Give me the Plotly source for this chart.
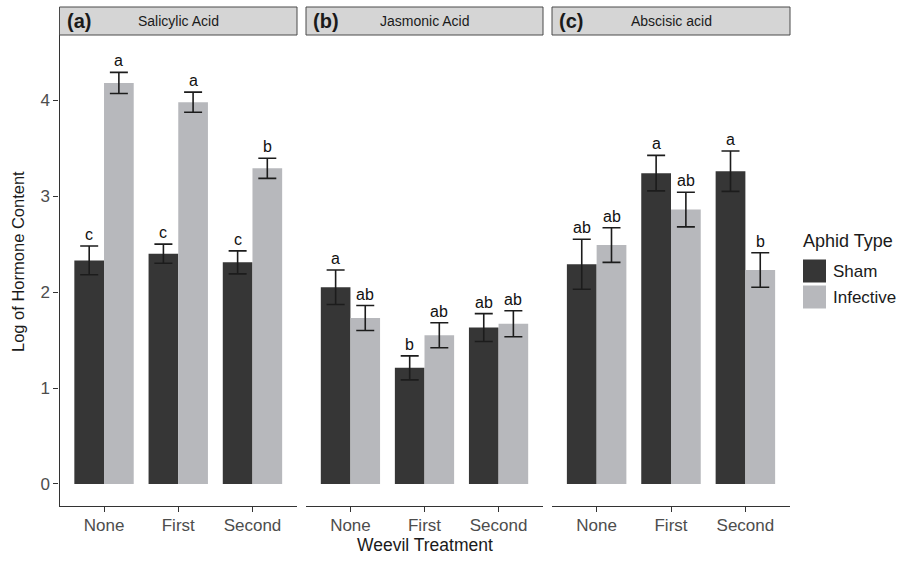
import plotly.graph_objects as go

W, H = 899, 564

categories = ["None", "First", "Second"]
cat_pos = [1, 2, 3]
hormones = ["Salicylic Acid", "Jasmonic Acid", "Abscisic acid"]
panel_tags = ["(a)", "(b)", "(c)"]
groups = ["Sham", "Infective"]

sa_sham = [2.33, 2.40, 2.31]
sa_sham_se = [0.15, 0.10, 0.12]
sa_inf = [4.18, 3.98, 3.29]
sa_inf_se = [0.11, 0.105, 0.105]

ja_sham = [2.05, 1.21, 1.63]
ja_sham_se = [0.18, 0.125, 0.145]
ja_inf = [1.73, 1.55, 1.67]
ja_inf_se = [0.13, 0.13, 0.135]

aba_sham = [2.29, 3.24, 3.26]
aba_sham_se = [0.26, 0.185, 0.21]
aba_inf = [2.49, 2.86, 2.23]
aba_inf_se = [0.18, 0.18, 0.18]

sa_sham_letters = ["c", "c", "c"]
sa_inf_letters = ["a", "a", "b"]
ja_sham_letters = ["a", "b", "ab"]
ja_inf_letters = ["ab", "ab", "ab"]
aba_sham_letters = ["ab", "a", "a"]
aba_inf_letters = ["ab", "ab", "b"]

y_ticks = [0, 1, 2, 3, 4]

panels = [
    (sa_sham, sa_sham_se, sa_inf, sa_inf_se, sa_sham_letters, sa_inf_letters),
    (ja_sham, ja_sham_se, ja_inf, ja_inf_se, ja_sham_letters, ja_inf_letters),
    (aba_sham, aba_sham_se, aba_inf, aba_inf_se, aba_sham_letters, aba_inf_letters),
]

colors = {"Sham": "#363636", "Infective": "#b7b8bc"}
FONT = "Liberation Sans, Arial, sans-serif"


def px_x(p):
    return p / W


def px_y(p):
    return 1 - p / H


panel_px = [(59.5, 297), (306, 543), (552, 790)]
top_px, bot_px = 35, 506
yrange = [-0.23, 4.68]
bar_w = 0.4
offsets = {"Sham": -0.4, "Infective": 0.0}

fig = go.Figure()
annotations = []
shapes = []


def paper_text(x, y, text, size, color="#1a1a1a", xanchor="center", angle=0):
    return dict(x=px_x(x), y=px_y(y), xref="paper", yref="paper", text=text,
                showarrow=False, xanchor=xanchor, yanchor="middle", textangle=angle,
                font=dict(family=FONT, size=size, color=color))


for i, (sham, sham_se, inf, inf_se, sl, il) in enumerate(panels):
    xa = "x" if i == 0 else f"x{i+1}"
    ya = "y" if i == 0 else f"y{i+1}"
    for g, vals, errs, letters in (("Sham", sham, sham_se, sl), ("Infective", inf, inf_se, il)):
        fig.add_trace(go.Bar(
            x=cat_pos, y=vals, width=bar_w, offset=offsets[g],
            marker=dict(color=colors[g], line=dict(width=0)),
            error_y=dict(type="data", array=errs, visible=True,
                         color="#1c1c1c", thickness=1.6, width=9),
            name=g, showlegend=False, xaxis=xa, yaxis=ya,
        ))
        for xp, v, e, t in zip(cat_pos, vals, errs, letters):
            annotations.append(dict(
                x=xp + offsets[g] + bar_w / 2, y=v + e, xref=xa, yref=ya,
                text=t, showarrow=False, xanchor="center", yanchor="bottom", yshift=1,
                font=dict(family=FONT, size=16, color="#111111")))
    x0, x1 = panel_px[i]
    # strip
    shapes.append(dict(type="rect", xref="paper", yref="paper",
                       x0=px_x(x0), x1=px_x(x1), y0=px_y(35), y1=px_y(7),
                       fillcolor="#d5d5d5", line=dict(color="#4a4a4a", width=1)))
    annotations.append(paper_text((x0 + x1) / 2, 21, hormones[i], 14))
    annotations.append(paper_text(x0 + 5, 21, "<b>" + panel_tags[i] + "</b>", 20,
                                  xanchor="left"))

    xaxis = dict(domain=[px_x(x0), px_x(x1)], range=[0.4, 3.6],
                 tickvals=cat_pos, ticktext=categories, showline=True,
                 linecolor="#333333", linewidth=1.3, ticks="outside", ticklen=5,
                 tickcolor="#333333", tickwidth=1.3, showgrid=False, zeroline=False,
                 tickfont=dict(family=FONT, size=17, color="#4d4d4d"),
                 ticklabelstandoff=-2,
                 anchor=ya, fixedrange=True)
    yaxis = dict(domain=[px_y(bot_px), px_y(top_px)], range=yrange,
                 showgrid=False, zeroline=False, anchor=xa, fixedrange=True)
    if i == 0:
        yaxis.update(tickvals=y_ticks, showline=True, linecolor="#333333", linewidth=1.3,
                     ticks="outside", ticklen=5, tickcolor="#333333", tickwidth=1.3,
                     tickfont=dict(family=FONT, size=17, color="#4d4d4d"))
    else:
        yaxis.update(matches="y", showticklabels=False, showline=False, ticks="")
    fig.layout["xaxis" if i == 0 else f"xaxis{i+1}"] = xaxis
    fig.layout["yaxis" if i == 0 else f"yaxis{i+1}"] = yaxis

# axis titles
annotations.append(paper_text(425, 545, "Weevil Treatment", 17.5))
annotations.append(paper_text(18, 262, "Log of Hormone Content", 16.5, angle=-90))

# legend (manual)
annotations.append(paper_text(801, 241, "Aphid Type", 18, xanchor="left"))
key_rows = [(259.5, 282.5), (285.5, 308.5)]
for g, (k0, k1) in zip(groups, key_rows):
    shapes.append(dict(type="rect", xref="paper", yref="paper",
                       x0=px_x(803), x1=px_x(826), y0=px_y(k1), y1=px_y(k0),
                       fillcolor=colors[g], line=dict(width=0)))
    annotations.append(paper_text(831, (k0 + k1) / 2, g, 17, xanchor="left"))

fig.update_layout(
    width=W, height=H, margin=dict(l=0, r=0, t=0, b=0),
    paper_bgcolor="white", plot_bgcolor="white",
    barmode="overlay", showlegend=False,
    annotations=annotations, shapes=shapes,
)

fig.write_html("out.html", config={"displayModeBar": False},
               post_script="document.body.style.margin='0';document.body.style.overflow='hidden';")
